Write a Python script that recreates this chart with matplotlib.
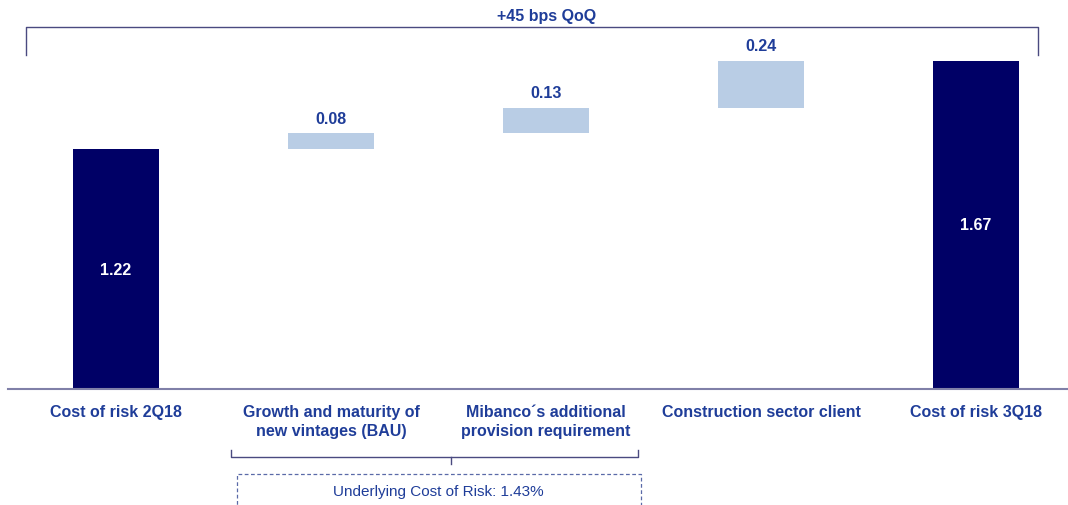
import matplotlib.pyplot as plt
from matplotlib.patches import Rectangle

plt.rcParams['font.family'] = ['Liberation Sans', 'DejaVu Sans']

categories = ['Cost of risk 2Q18', 'Growth and maturity of\nnew vintages (BAU)',
              'Mibanco\u00b4s additional\nprovision requirement',
              'Construction sector client', 'Cost of risk 3Q18']
values = [1.22, 0.08, 0.13, 0.24, 1.67]
is_total = [True, False, False, False, True]
value_labels = ['1.22', '0.08', '0.13', '0.24', '1.67']
top_note = '+45 bps QoQ'
bottom_note = 'Underlying Cost of Risk: 1.43%'

navy = '#000066'
light = '#B9CDE5'
txt = '#1F3D99'
line_c = '#4A4A80'

fig = plt.figure(figsize=(10.68, 5.06), dpi=100)
ax = fig.add_axes([0.0075, 0.229, 0.9925, 0.771])

# waterfall bases
bottoms = []
run = 0
for v, t in zip(values, is_total):
    if t:
        bottoms.append(0)
        run = v
    else:
        bottoms.append(run)
        run += v

x = list(range(len(values)))
colors = [navy if t else light for t in is_total]
ax.bar(x, values, bottom=bottoms, width=0.4, color=colors, zorder=2)

for i, (v, b, t) in enumerate(zip(values, bottoms, is_total)):
    if t:
        ax.text(i, b + v / 2, value_labels[i], ha='center', va='center',
                color='white', fontsize=11.5, fontweight='bold')
    else:
        ax.text(i, b + v + 0.078, value_labels[i], ha='center', va='center',
                color=txt, fontsize=11.5, fontweight='bold')

ax.set_xlim(-0.502, 4.428)
ax.set_ylim(0, 1.983)
for s in ['top', 'right', 'left']:
    ax.spines[s].set_visible(False)
ax.spines['bottom'].set_color('#8080A8')
ax.spines['bottom'].set_linewidth(1.5)
ax.set_yticks([])
ax.set_xticks(x)
ax.set_xticklabels(categories, color=txt, fontsize=11.5, fontweight='bold',
                   linespacing=1.3)
ax.tick_params(axis='x', length=0, pad=11)


# helpers in pixel coords (from top-left) converted to figure fraction
def fx(px):
    return px / 1068


def fy(py):
    return 1 - py / 506


# top bracket
fig.add_artist(plt.Line2D([fx(26), fx(26), fx(1038), fx(1038)],
                          [fy(56), fy(28), fy(28), fy(56)],
                          color=line_c, lw=1.0))
fig.text(fx(547), fy(17), top_note, ha='center', va='center', color=txt,
         fontsize=11.5, fontweight='bold')

# bottom bracket
fig.add_artist(plt.Line2D([fx(231), fx(231), fx(638), fx(638)],
                          [fy(451), fy(458), fy(458), fy(451)],
                          color=line_c, lw=1.0))
fig.add_artist(plt.Line2D([fx(451), fx(451)], [fy(458), fy(465)],
                          color=line_c, lw=1.0))
fig.add_artist(Rectangle((fx(237), fy(520)), fx(641) - fx(237), fy(475) - fy(520),
                         transform=fig.transFigure, fill=False,
                         edgecolor='#5A6AA8', lw=0.9, ls=(0, (3, 2))))
fig.text(fx(438), fy(492), bottom_note, ha='center', va='center', color=txt,
         fontsize=11)

fig.savefig('out.png', dpi=100)
